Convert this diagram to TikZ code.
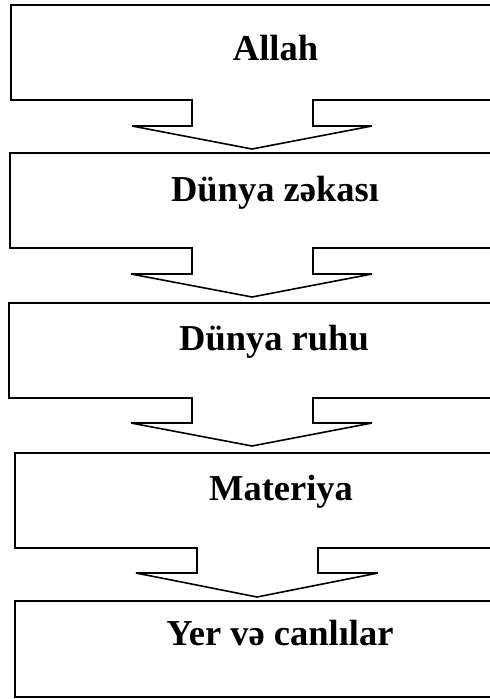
\documentclass[tikz,border=0pt]{standalone}
\usepackage{fontspec}
\setmainfont{Liberation Serif}
\begin{document}
\begin{tikzpicture}[x=1pt,y=-1pt,
  outline/.style={draw=black,line width=1.6pt,line join=miter,fill=white},
  lbl/.style={anchor=base,inner sep=0pt,font=\fontsize{36.5}{40}\selectfont\bfseries}]
\useasboundingbox (0,0) rectangle (490,699);
\clip (0,0) rectangle (490,699);
% box 1 with arrow
\draw[outline] (540,5) -- (11,5) -- (11,100) -- (192,100) -- (192,126) -- (132,126)
  -- (252,149) coordinate (t1) -- (372,126) -- (313,126) -- (313,100) -- (540,100) -- cycle;
% box 2 with arrow
\draw[outline] (540,153) coordinate (b2) -- (10,153) -- (10,248) -- (192,248) -- (192,274) -- (131,274)
  -- (252,297) coordinate (t2) -- (372,274) -- (313,274) -- (313,248) -- (540,248) -- cycle;
% box 3 with arrow
\draw[outline] (540,303) -- (9,303) -- (9,398) -- (192,398) -- (192,423) -- (131,423)
  -- (252,446) coordinate (t3) -- (372,423) -- (313,423) -- (313,398) -- (540,398) -- cycle;
% box 4 with arrow
\draw[outline] (540,453) -- (15,453) -- (15,548) -- (197,548) -- (197,573) -- (136,573)
  -- (257,597) coordinate (t4) -- (378,573) -- (318,573) -- (318,548) -- (540,548) -- cycle;
% box 5
\draw[outline] (540,601) -- (15,601) -- (15,697) -- (540,697) -- cycle;
% labels
\node[lbl] (n1) at (275.5,60) {Allah};
\node[lbl] (n2) at (275,201) {Dünya zəkası};
\node[lbl] (n3) at (274,350) {Dünya ruhu};
\node[lbl] (n4) at (281,500) {Materiya};
\node[lbl] (n5) at (280,645) {Yer və canlılar};
\end{tikzpicture}
\end{document}
